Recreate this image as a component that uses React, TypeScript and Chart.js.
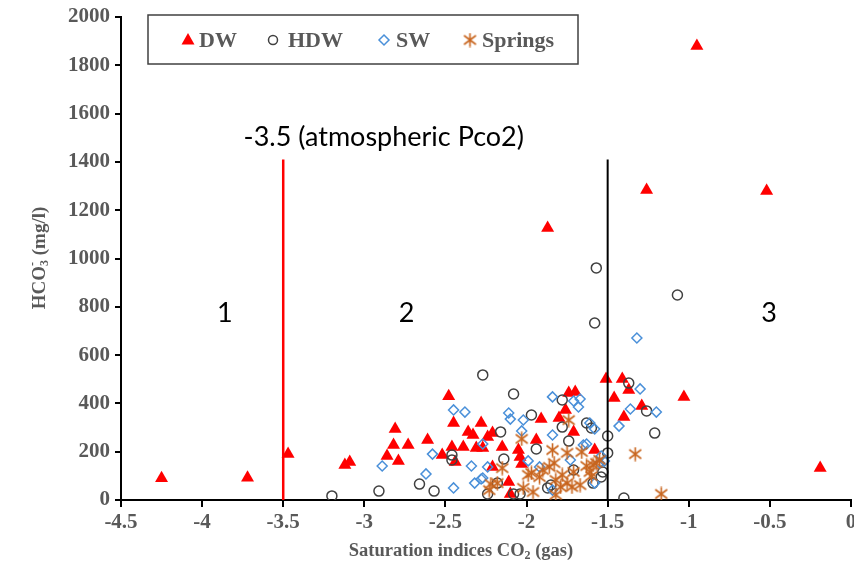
import React, { useEffect, useRef } from "react";
import { Chart, registerables } from "chart.js";
Chart.register(...registerables);

// ---- data ----
const dwX = [-4.25,-3.72,-3.47,-3.12,-3.09,-2.86,-2.82,-2.81,-2.79,-2.73,-2.61,-2.52,-2.48,-2.46,-2.45,-2.44,-2.39,-2.36,-2.33,-2.31,-2.28,-2.27,-2.24,-2.21,-2.21,-2.15,-2.11,-2.10,-2.05,-2.04,-2.03,-1.94,-1.91,-1.87,-1.80,-1.76,-1.74,-1.70,-1.71,-1.58,-1.51,-1.41,-1.37,-1.46,-1.40,-1.29,-1.03,-1.26,-0.52,-0.95,-0.19];
const dwY = [90,92,190,145,157,182,228,294,161,228,248,186,430,219,319,157,219,282,269,215,319,215,261,277,137,219,75,25,207,178,149,248,335,1126,340,373,443,447,282,207,501,501,455,422,344,389,427,1284,1280,1880,132];

const hdwX = [-3.20,-2.91,-2.66,-2.57,-2.46,-2.46,-2.27,-2.24,-2.16,-2.14,-2.18,-2.08,-2.08,-2.04,-1.97,-1.94,-1.87,-1.85,-1.78,-1.78,-1.74,-1.71,-1.63,-1.60,-1.59,-1.54,-1.53,-1.50,-1.50,-1.40,-1.37,-1.26,-1.21,-1.57,-1.58,-1.07];
const hdwY = [17,37,66,37,186,166,518,25,282,170,70,439,25,25,352,211,50,62,414,302,244,124,319,298,70,95,116,265,195,8,484,369,277,961,733,849];

const swX = [-2.89,-2.62,-2.58,-2.45,-2.38,-2.45,-2.34,-2.27,-2.32,-2.28,-2.24,-2.11,-2.10,-2.02,-2.03,-1.99,-1.92,-1.84,-1.84,-1.84,-1.71,-1.67,-1.68,-1.63,-1.73,-1.61,-1.58,-1.54,-1.55,-1.58,-2.27,-1.32,-1.30,-1.36,-1.20,-1.43,-1.65,-1.52];
const swY = [141,108,190,373,364,50,141,232,70,87,137,360,335,331,286,162,137,41,427,269,410,418,385,232,166,319,294,182,153,70,91,671,460,377,364,306,228,161];

const spX = [-2.22,-2.23,-2.15,-2.18,-2.03,-2.02,-1.99,-1.96,-1.97,-1.92,-1.90,-1.86,-1.84,-1.83,-1.82,-1.82,-1.79,-1.78,-1.75,-1.74,-1.75,-1.72,-1.71,-1.67,-1.66,-1.63,-1.61,-1.59,-1.60,-1.57,-1.55,-1.33,-1.17];
const spY = [66,41,132,70,253,50,104,33,112,95,124,137,207,153,83,21,54,104,195,331,70,54,116,62,199,141,116,145,99,153,166,190,25];

const seriesNames = ["DW", "HDW", "SW", "Springs"];
const xTicks = [-4.5, -4, -3.5, -3, -2.5, -2, -1.5, -1, -0.5, 0];
const yTicks = [0, 200, 400, 600, 800, 1000, 1200, 1400, 1600, 1800, 2000];

const atmLineX = [-3.5, -3.5];
const atmLineY = [0, 1410];
const divLineX = [-1.5, -1.5];
const divLineY = [0, 1410];

const regionLabels = ["1", "2", "3"];
const regionX = [-3.86, -2.74, -0.505];
const regionY = [775, 775, 775];
const atmLabel = "-3.5 (atmospheric Pco2)";
const atmLabelX = -2.88;
const atmLabelY = 1503;

const xTitle = "Saturation indices CO";
const yTitle = "HCO";

const SERIF = "'Liberation Serif', 'Times New Roman', serif";
const GREY = "#595959";
const ORANGE = "#c8651e";

function zip(xs: number[], ys: number[]) {
  return xs.map((x, i) => ({ x, y: ys[i] }));
}

function makeAsterisk(color: string) {
  const c = document.createElement("canvas");
  c.width = 15;
  c.height = 15;
  const g = c.getContext("2d")!;
  g.strokeStyle = color;
  g.lineWidth = 1.6;
  g.lineCap = "butt";
  g.beginPath();
  g.moveTo(7.5, 0.5);
  g.lineTo(7.5, 14.5);
  g.moveTo(1.5, 3);
  g.lineTo(13.5, 12);
  g.moveTo(13.5, 3);
  g.lineTo(1.5, 12);
  g.stroke();
  return c;
}

function drawRuns(ctx: CanvasRenderingContext2D, runs: { t: string; k?: string }[], size: number, cx: number, cy: number) {
  const big = `bold ${size}px ${SERIF}`;
  const small = `bold ${Math.round(size * 0.65)}px ${SERIF}`;
  let total = 0;
  const widths: number[] = [];
  for (let i = 0; i < runs.length; i++) {
    const r = runs[i];
    ctx.font = r.k ? small : big;
    let w = ctx.measureText(r.t).width;
    if (r.k === "sup" && i > 0 && runs[i - 1].k === "sub") {
      w = Math.max(0, w - widths[i - 1]);
    }
    widths.push(w);
    total += w;
  }
  let x = cx - total / 2;
  for (let i = 0; i < runs.length; i++) {
    const r = runs[i];
    ctx.font = r.k ? small : big;
    let dy = 0;
    let xx = x;
    if (r.k === "sub") dy = size * 0.28;
    if (r.k === "sup") {
      dy = -size * 0.35;
      if (i > 0 && runs[i - 1].k === "sub") xx = x - widths[i - 1];
    }
    ctx.fillText(r.t, xx, cy + dy);
    x += widths[i];
  }
}

const overlay = {
  id: "overlay",
  afterDraw(chart: any) {
    const ctx: CanvasRenderingContext2D = chart.ctx;
    const xs = chart.scales.x;
    const ys = chart.scales.y;
    ctx.save();

    // region labels
    ctx.fillStyle = "#000";
    ctx.textAlign = "center";
    ctx.textBaseline = "middle";
    ctx.font = "27px Lato, 'Liberation Sans', sans-serif";
    regionLabels.forEach((t, i) => {
      ctx.fillText(t, xs.getPixelForValue(regionX[i]), ys.getPixelForValue(regionY[i]));
    });
    ctx.fillText(atmLabel, xs.getPixelForValue(atmLabelX), ys.getPixelForValue(atmLabelY));

    // legend
    ctx.fillStyle = "#fff";
    ctx.fillRect(148, 15, 430, 49);
    ctx.strokeStyle = "#404040";
    ctx.lineWidth = 1.5;
    ctx.strokeRect(148, 15, 430, 49);
    const ly = 40;
    ctx.fillStyle = "#ff0000";
    ctx.beginPath();
    ctx.moveTo(188, ly - 7);
    ctx.lineTo(194.5, ly + 4.5);
    ctx.lineTo(181.5, ly + 4.5);
    ctx.closePath();
    ctx.fill();
    ctx.strokeStyle = "#404040";
    ctx.lineWidth = 1.5;
    ctx.beginPath();
    ctx.arc(273, ly, 4.5, 0, Math.PI * 2);
    ctx.stroke();
    ctx.strokeStyle = "#4a90d9";
    ctx.beginPath();
    ctx.moveTo(384, ly - 5);
    ctx.lineTo(389, ly);
    ctx.lineTo(384, ly + 5);
    ctx.lineTo(379, ly);
    ctx.closePath();
    ctx.stroke();
    ctx.drawImage(makeAsterisk(ORANGE), 470 - 7.5, ly - 7.5);
    ctx.fillStyle = GREY;
    ctx.textAlign = "left";
    ctx.textBaseline = "middle";
    ctx.font = `bold 22px ${SERIF}`;
    const lx = [199, 288, 396, 482];
    seriesNames.forEach((n, i) => ctx.fillText(n, lx[i], ly + 1));

    // axis titles
    ctx.fillStyle = GREY;
    ctx.textAlign = "left";
    ctx.textBaseline = "middle";
    drawRuns(ctx, [{ t: xTitle }, { t: "2", k: "sub" }, { t: " (gas)" }], 18.5, 461, 551);
    ctx.translate(40, 258);
    ctx.rotate(-Math.PI / 2);
    drawRuns(ctx, [{ t: yTitle }, { t: "3", k: "sub" }, { t: "-", k: "sup" }, { t: " (mg/l)" }], 19, 0, 0);
    ctx.restore();
  },
};

export default function App() {
  const ref = useRef<HTMLCanvasElement>(null);
  useEffect(() => {
    const star = makeAsterisk(ORANGE);
    const tickFont = { family: SERIF, size: 21, weight: "bold" as const };
    const chart = new Chart(ref.current!, {
      type: "scatter",
      data: {
        datasets: [
          {
            label: "atm",
            data: zip(atmLineX, atmLineY),
            showLine: true,
            borderColor: "#ff0000",
            borderWidth: 2.5,
            pointRadius: 0,
            order: 0,
          } as any,
          {
            label: "div",
            data: zip(divLineX, divLineY),
            showLine: true,
            borderColor: "#000",
            borderWidth: 2,
            pointRadius: 0,
            order: 0,
          },
          {
            label: seriesNames[3],
            data: zip(spX, spY),
            pointStyle: star as any,
            pointRadius: 7,
            order: 1,
          },
          {
            label: seriesNames[2],
            data: zip(swX, swY),
            pointStyle: "rectRot",
            pointRadius: 5,
            borderColor: "#4a90d9",
            backgroundColor: "rgba(0,0,0,0)",
            borderWidth: 1.5,
            order: 2,
          },
          {
            label: seriesNames[1],
            data: zip(hdwX, hdwY),
            pointStyle: "circle",
            pointRadius: 5,
            borderColor: "#404040",
            backgroundColor: "rgba(0,0,0,0)",
            borderWidth: 1.5,
            order: 3,
          },
          {
            label: seriesNames[0],
            data: zip(dwX, dwY),
            pointStyle: "triangle",
            pointRadius: 7.5,
            borderColor: "#ff0000",
            backgroundColor: "#ff0000",
            borderWidth: 0,
            order: 4,
          },
        ],
      },
      options: {
        animation: false,
        responsive: false,
        devicePixelRatio: 1,
        layout: { autoPadding: false, padding: { left: 0, right: 3, top: 17, bottom: 0 } },
        plugins: { legend: { display: false }, tooltip: { enabled: false } },
        scales: {
          x: {
            type: "linear",
            min: -4.5,
            max: 0,
            afterBuildTicks: (s: any) => {
              s.ticks = xTicks.map((v) => ({ value: v }));
            },
            ticks: { font: tickFont, color: GREY, padding: 3, maxRotation: 0, autoSkip: false, callback: (v: any) => String(v) },
            grid: { drawOnChartArea: false, drawTicks: true, tickLength: 7, color: "#000", lineWidth: 2 },
            border: { color: "#000", width: 2 },
            afterFit: (s: any) => {
              s.height = 66;
              s.paddingLeft = 0;
              s.paddingRight = 0;
            },
          },
          y: {
            type: "linear",
            min: 0,
            max: 2000,
            afterBuildTicks: (s: any) => {
              s.ticks = yTicks.map((v) => ({ value: v }));
            },
            ticks: { font: tickFont, color: GREY, padding: 5, autoSkip: false, callback: (v: any) => String(v) },
            grid: { drawOnChartArea: false, drawTicks: true, tickLength: 6, color: "#000", lineWidth: 2 },
            border: { color: "#000", width: 2 },
            afterFit: (s: any) => {
              s.width = 121;
              s.paddingTop = 0;
              s.paddingBottom = 0;
            },
          },
        },
      },
      plugins: [overlay],
    });
    return () => chart.destroy();
  }, []);
  return (
    <div style={{ position: "absolute", left: 0, top: 0, width: 854, height: 566, background: "#fff" }}>
      <canvas ref={ref} width={854} height={566} style={{ display: "block" }} />
    </div>
  );
}
